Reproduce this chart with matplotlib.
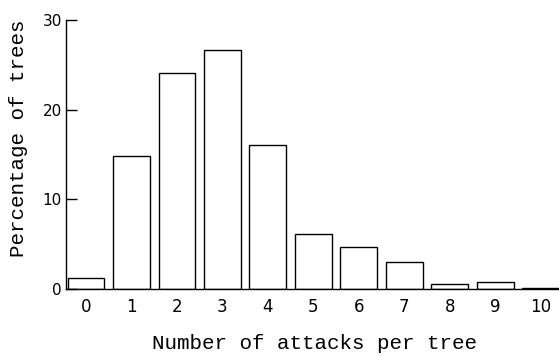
import numpy as np
import matplotlib.pyplot as plt

# attacks per tree and share of trees (%)
attacks = list(range(11))
percent = [1.3, 14.8, 24.1, 26.6, 16.1, 6.1, 4.7, 3.0, 0.6, 0.8, 0.15]
yticks = [0, 10, 20, 30]

fig = plt.figure(figsize=(5.59, 3.57), dpi=100)
ax = fig.add_axes([0.118, 0.19, 0.882, 0.754])

ax.bar(attacks, percent, width=0.81, color='white', edgecolor='black', linewidth=1.0)

ax.set_xlim(-0.44, 10.4)
ax.set_ylim(0, 30)
ax.set_xticks(attacks)
ax.set_yticks(yticks)
ax.tick_params(axis='x', length=0, pad=6, labelsize=12)
ax.tick_params(axis='y', direction='in', length=8, width=1, pad=3, labelsize=11)
for s in ['top', 'right']:
    ax.spines[s].set_visible(False)
for s in ['left', 'bottom']:
    ax.spines[s].set_linewidth(1.0)

ax.set_xlabel('Number of attacks per tree', family='Liberation Mono', fontsize=15)
ax.set_ylabel('Percentage of trees', family='Liberation Mono', fontsize=15)
ax.xaxis.set_label_coords(0.505, -0.165)
ax.yaxis.set_label_coords(-0.078, 0.561)

fig.savefig('out.png', dpi=100)
